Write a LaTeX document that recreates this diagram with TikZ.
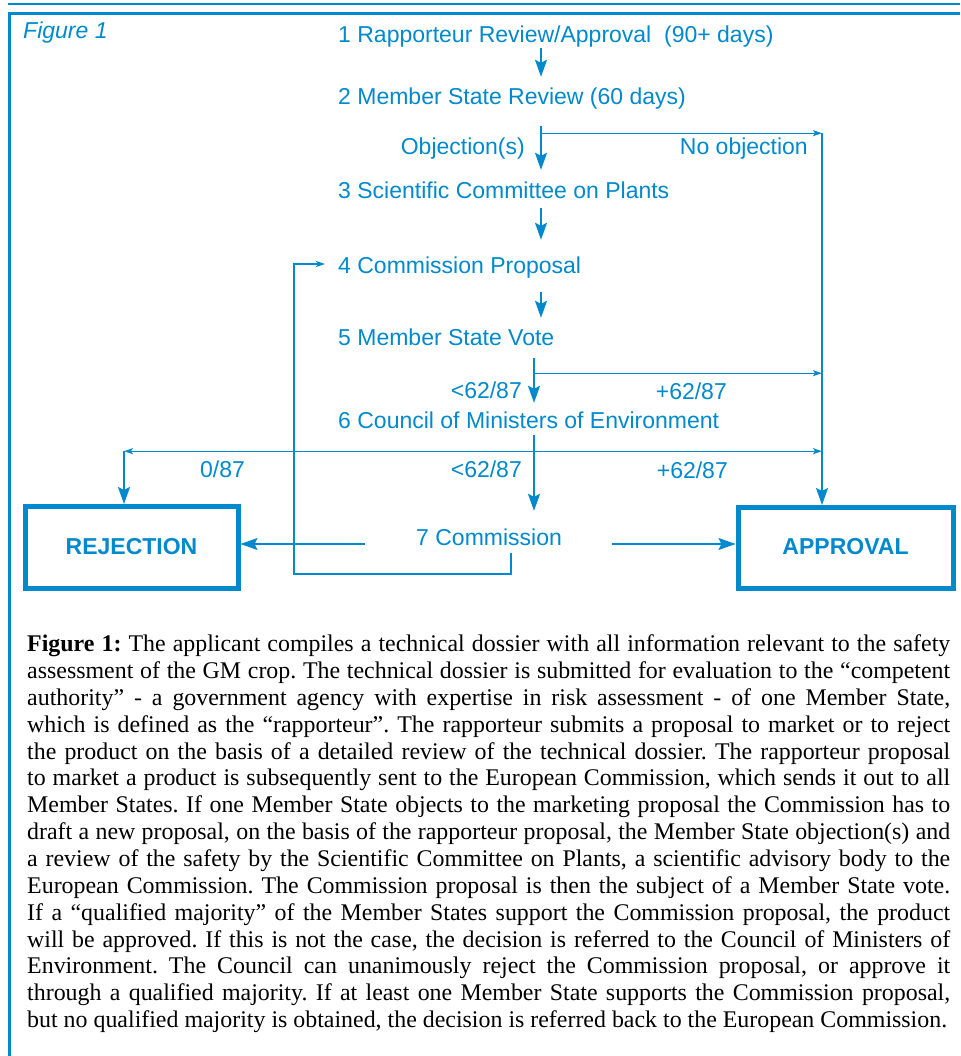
\documentclass[tikz,border=0pt]{standalone}
\usepackage{fontspec}
\setmainfont{Liberation Sans}
\newfontfamily\capserif{Liberation Serif}
\usetikzlibrary{arrows.meta}
\definecolor{figblue}{RGB}{0,137,204}
\tikzset{
  btip/.tip={Stealth[length=17pt,width=12pt,inset=3pt]},
  vtip/.tip={Stealth[length=9pt,width=6pt,inset=2pt]},
}

\begin{document}
\begin{tikzpicture}[x=1pt,y=-1pt,
    stage/.style={anchor=base west, inner sep=0pt, text height=17pt, text depth=5pt, font=\fontsize{23}{27}\selectfont, text=figblue},
    vote/.style={stage, anchor=base east},
    outcome/.style={draw=figblue, line width=5pt, inner sep=0pt, font=\fontsize{23}{27}\selectfont\bfseries, text=figblue},
    main/.style={draw=figblue, line width=1.6pt, -btip},
    rule/.style={draw=figblue, line width=1.3pt},
    branch/.style={rule, -vtip}]
    \useasboundingbox (0,0) rectangle (960,1056);
    \draw[figblue, line width=2pt] (8,4) -- (960,4);
    \draw[figblue, line width=3pt] (960,13.5) -- (9.5,13.5) -- (9.5,1056);

    \node[stage, font=\fontsize{23}{27}\selectfont\itshape] (fig) at (23,39) {Figure 1};
    \node[stage] (s1) at (338,43) {1 Rapporteur Review/Approval\ \ (90+ days)};
    \node[stage] (s2) at (338,105) {2 Member State Review (60 days)};
    \node[stage] (s3) at (338,199) {3 Scientific Committee on Plants};
    \node[stage] (s4) at (338,274) {4 Commission Proposal};
    \node[stage] (s5) at (338,345) {5 Member State Vote};
    \node[stage] (s6) at (338,428) {6 Council of Ministers of Environment};
    \node[stage] (s7) at (416,545) {7 Commission};
    \node[vote] (obj) at (525,155) {Objection(s)};
    \node[vote] (noobj) at (808,155) {No objection};
    \node[vote] (lt5) at (522,398) {<62/87};
    \node[vote] (gt5) at (727,399) {+62/87};
    \node[stage] (zero) at (200,477) {0/87};
    \node[vote] (lt6) at (522,477) {<62/87};
    \node[vote] (gt6) at (728,478) {+62/87};
    \node[outcome, minimum width=213pt, minimum height=81.5pt] (rej) at (131.5,547.25) {\raisebox{2pt}{REJECTION}};
    \node[outcome, minimum width=215pt, minimum height=80.5pt] (app) at (845.5,547.75) {\raisebox{3pt}{APPROVAL}};

    \coordinate (upper) at (541,0);
    \coordinate (lower) at (534,0);
    \coordinate (yes) at (822,0);
    \coordinate (no) at (124,0);
    \coordinate (back) at (294,574);
    \coordinate (f2) at ([yshift=-23pt]s2.south -| upper);
    \coordinate (f5) at ([yshift=-23pt]s5.south -| lower);
    \coordinate (f6) at ([yshift=-18pt]s6.south -| lower);
    \coordinate (mid7) at ([yshift=-5pt]s7.west);

    \draw[main] (s1.south -| upper) -- ([yshift=11pt]s2.north -| upper);
    \draw[main] ([yshift=-16pt]s2.south -| upper) -- ([yshift=12pt]s3.north -| upper);
    \draw[main] ([yshift=-4pt]s3.south -| upper) -- ([yshift=17pt]s4.north -| upper);
    \draw[main] ([yshift=-13pt]s4.south -| upper) -- ([yshift=10pt]s5.north -| upper);
    \draw[main] ([yshift=-8pt]s5.south -| lower) -- ([yshift=8pt]s6.north -| lower);
    \draw[main] ([yshift=-2pt]s6.south -| lower) -- ([yshift=17pt]s7.north -| lower);

    \draw[branch] (f2) -- (f2 -| yes);
    \draw[branch] (f5) -- (f5 -| yes);
    \draw[branch, vtip-vtip] (f6 -| no) -- (f6 -| yes);
    \draw[rule, -btip] (f2 -| yes) -- (app.north -| yes);
    \draw[rule, -btip] (f6 -| no) -- (rej.north -| no);
    \draw[rule, -btip] ([xshift=-51pt]mid7) -- (mid7 -| rej.east);
    \draw[rule, -btip] ([xshift=50pt]s7.east |- mid7) -- (mid7 -| app.west);
    \draw[branch] ([xshift=22pt,yshift=-3pt]s7.south) |- (back) |- ([xshift=-13pt,yshift=4pt]s4.west);

    \node[anchor=north west, inner sep=0pt, text width=923pt, align=justify,
      font=\capserif\fontsize{23.9}{26.85}\selectfont] (cap) at (27,634.7) {\frenchspacing\tolerance=9999\hyphenpenalty=10000\noindent
      \textbf{Figure 1:} The applicant compiles a technical dossier with all information relevant to the safety\linebreak
      assessment of the GM crop. The technical dossier is submitted for evaluation to the “competent\linebreak
      authority” - a government agency with expertise in risk assessment - of one Member State,\linebreak
      which is defined as the “rapporteur”. The rapporteur submits a proposal to market or to reject\linebreak
      the product on the basis of a detailed review of the technical dossier. The rapporteur proposal\linebreak
      to market a product is subsequently sent to the European Commission, which sends it out to all\linebreak
      Member States. If one Member State objects to the marketing proposal the Commission has to\linebreak
      draft a new proposal, on the basis of the rapporteur proposal, the Member State objection(s) and\linebreak
      a review of the safety by the Scientific Committee on Plants, a scientific advisory body to the\linebreak
      European Commission. The Commission proposal is then the subject of a Member State vote.\linebreak
      If a “qualified majority” of the Member States support the Commission proposal, the product\linebreak
      will be approved. If this is not the case, the decision is referred to the Council of Ministers of\linebreak
      Environment. The Council can unanimously reject the Commission proposal, or approve it\linebreak
      through a qualified majority. If at least one Member State supports the Commission proposal,\linebreak
      but no qualified majority is obtained, the decision is referred back to the European Commission.};
\end{tikzpicture}
\end{document}
